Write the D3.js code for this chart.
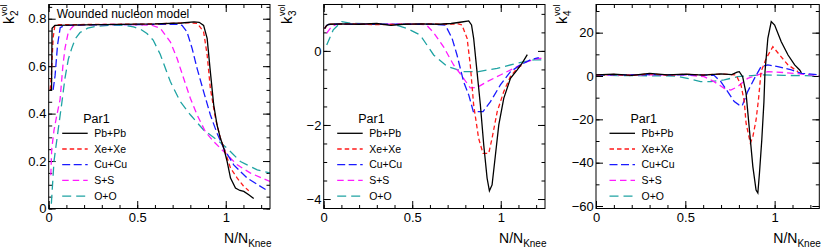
<!DOCTYPE html>
<html>
<head>
<meta charset="utf-8">
<script src="https://cdn.jsdelivr.net/npm/d3@7"></script>
<style>
body { margin: 0; background: #fff; }
svg { display: block; font-family: "Liberation Sans", Arial, sans-serif; }
</style>
</head>
<body>
<div id="chart"></div>
<script>
// systems, in legend order
var systems = ["Pb+Pb", "Xe+Xe", "Cu+Cu", "S+S", "O+O"];
var colors = ["#000000", "#ff1a1a", "#1a1aff", "#ff1aff", "#1fa3a3"];
var dashes = [null, "4.5,3", "8,3.5", "6.5,4", "9,5"];

var xTicks = [0, 0.5, 1];

// k2^vol vs N/N_Knee  [x, y]
var k2_PbPb = [[0.006,0.5],[0.016,0.5],[0.019,0.76],[0.035,0.772],[0.2,0.774],[0.4,0.776],[0.6,0.778],[0.75,0.782],[0.82,0.787],[0.85,0.785],[0.875,0.772],[0.895,0.717],[0.913,0.577],[0.932,0.437],[0.951,0.352],[0.97,0.296],[0.989,0.254],[1.008,0.198],[1.027,0.128],[1.055,0.086],[1.08,0.076],[1.102,0.072],[1.13,0.058],[1.158,0.042]];
var k2_XeXe = [[0.008,0.5],[0.015,0.56],[0.025,0.72],[0.035,0.772],[0.06,0.775],[0.3,0.776],[0.6,0.778],[0.78,0.783],[0.84,0.78],[0.875,0.745],[0.895,0.647],[0.913,0.507],[0.942,0.38],[0.97,0.296],[0.99,0.255],[1.027,0.17],[1.065,0.128],[1.1,0.095],[1.13,0.075]];
var k2_CuCu = [[0.025,0.5],[0.036,0.56],[0.05,0.69],[0.065,0.762],[0.09,0.772],[0.3,0.775],[0.6,0.776],[0.73,0.776],[0.753,0.772],[0.781,0.745],[0.81,0.675],[0.838,0.591],[0.875,0.493],[0.913,0.395],[0.951,0.317],[0.989,0.254],[1.045,0.184],[1.121,0.128],[1.225,0.08]];
var k2_SS = [[0.012,0.14],[0.017,0.25],[0.03,0.33],[0.045,0.39],[0.064,0.458],[0.08,0.6],[0.092,0.675],[0.111,0.745],[0.14,0.77],[0.2,0.775],[0.4,0.776],[0.58,0.773],[0.63,0.76],[0.687,0.703],[0.725,0.633],[0.762,0.549],[0.8,0.465],[0.838,0.395],[0.885,0.324],[0.932,0.282],[0.989,0.24],[1.065,0.184],[1.14,0.149],[1.25,0.114]];
var k2_OO = [[0.015,0.02],[0.03,0.2],[0.055,0.34],[0.075,0.45],[0.092,0.55],[0.111,0.63],[0.13,0.675],[0.15,0.715],[0.177,0.742],[0.22,0.76],[0.253,0.766],[0.347,0.773],[0.43,0.772],[0.479,0.766],[0.52,0.755],[0.555,0.738],[0.59,0.71],[0.63,0.65],[0.687,0.535],[0.743,0.451],[0.8,0.395],[0.875,0.331],[0.951,0.289],[1.008,0.254],[1.083,0.198],[1.178,0.163],[1.25,0.15]];

// k3^vol
var k3_PbPb = [[0.005,0.6],[0.015,0.68],[0.03,0.72],[0.1,0.73],[0.2,0.72],[0.3,0.74],[0.38,0.69],[0.45,0.72],[0.55,0.73],[0.65,0.72],[0.72,0.74],[0.78,0.78],[0.819,0.81],[0.835,0.7],[0.847,0.34],[0.866,-0.56],[0.885,-1.46],[0.904,-2.54],[0.923,-3.44],[0.936,-3.78],[0.951,-3.62],[0.97,-2.81],[0.989,-2.0],[1.017,-1.28],[1.055,-0.74],[1.093,-0.51],[1.121,-0.33],[1.15,-0.1]];
var k3_XeXe = [[0.005,0.6],[0.02,0.7],[0.04,0.72],[0.15,0.73],[0.3,0.71],[0.45,0.72],[0.6,0.73],[0.7,0.72],[0.76,0.73],[0.781,0.7],[0.81,0.34],[0.828,-0.38],[0.847,-1.46],[0.875,-2.36],[0.9,-2.77],[0.932,-2.77],[0.951,-2.36],[0.98,-1.64],[1.017,-1.1],[1.055,-0.69],[1.093,-0.47],[1.13,-0.35]];
var k3_CuCu = [[0.005,0.6],[0.02,0.7],[0.04,0.72],[0.3,0.72],[0.6,0.72],[0.687,0.7],[0.725,0.34],[0.753,-0.11],[0.79,-0.83],[0.82,-1.2],[0.845,-1.64],[0.9,-1.64],[0.942,-1.37],[0.998,-0.92],[1.055,-0.56],[1.111,-0.38],[1.168,-0.24],[1.215,-0.18]];
var k3_SS = [[0.017,0.48],[0.045,0.66],[0.074,0.72],[0.3,0.72],[0.55,0.72],[0.58,0.7],[0.62,0.5],[0.678,0.1],[0.734,-0.38],[0.79,-0.74],[0.828,-1.0],[0.866,-0.99],[0.923,-0.83],[0.998,-0.65],[1.074,-0.47],[1.15,-0.29],[1.215,-0.2],[1.26,-0.2]];
var k3_OO = [[0.017,0.16],[0.054,0.57],[0.102,0.79],[0.149,0.75],[0.25,0.73],[0.35,0.72],[0.42,0.68],[0.47,0.61],[0.545,0.43],[0.621,-0.11],[0.697,-0.42],[0.79,-0.56],[0.875,-0.56],[0.98,-0.47],[1.093,-0.33],[1.187,-0.24],[1.26,-0.24]];

// k4^vol
var k4_PbPb = [[0,0.5],[0.1,0.9],[0.2,0.3],[0.3,1.2],[0.4,0.5],[0.5,0.9],[0.6,0.4],[0.7,1.0],[0.76,0.6],[0.79,1.8],[0.802,2.0],[0.821,-0.3],[0.84,-8],[0.859,-24.9],[0.878,-41.8],[0.896,-52.6],[0.906,-54],[0.915,-44.9],[0.928,-29.5],[0.94,-12],[0.946,2],[0.962,17.4],[0.981,25.1],[1.0,23.5],[1.037,15.8],[1.075,9.7],[1.112,5.1],[1.14,2.8],[1.15,1.5]];
var k4_XeXe = [[0,0.5],[0.1,0.7],[0.2,0.2],[0.3,1.0],[0.4,0.4],[0.5,0.8],[0.6,0.5],[0.7,0.9],[0.784,0.5],[0.812,-4.2],[0.83,-11.8],[0.84,-21.8],[0.864,-31],[0.878,-28],[0.896,-20.3],[0.91,-10.5],[0.924,2],[0.953,8.2],[0.99,13.5],[1.028,9.7],[1.075,5.1],[1.131,2]];
var k4_CuCu = [[0,0.5],[0.3,0.6],[0.6,0.5],[0.661,0.3],[0.699,-2.6],[0.737,-7.2],[0.774,-11.8],[0.802,-13.4],[0.818,-13.8],[0.849,-7.2],[0.887,-1.1],[0.924,4.3],[0.962,5.1],[1.018,4.3],[1.094,2.8],[1.15,1.2],[1.26,0.5]];
var k4_SS = [[0,0.5],[0.5,0.5],[0.605,-0.3],[0.661,-2.6],[0.718,-5.7],[0.755,-6.5],[0.793,-4.9],[0.849,-1.1],[0.906,0.5],[0.962,2.0],[1.05,1.6],[1.112,1.2],[1.26,0.1]];
var k4_OO = [[0,0.3],[0.45,0],[0.511,-1.1],[0.586,-2.6],[0.644,-2.6],[0.718,-1.8],[0.793,-0.3],[0.924,0.5],[1.05,0.3],[1.26,0]];

var W = 830, H = 252, topY = 4.5, bottomY = 208.5;

var panels = [
  {left: 48.7, width: 221.3, ydom: [0, 0.86], major: [0, 0.2, 0.4, 0.6, 0.8], minorStep: 0.05,
   fmt: function(d){ return d === 0 ? "0" : d3.format(".1f")(d); }, sub: "2", titleX: 13.5,
   series: [k2_PbPb, k2_XeXe, k2_CuCu, k2_SS, k2_OO], note: "Wounded nucleon model"},
  {left: 323.7, width: 221.3, ydom: [-4.256, 1.253], major: [-4, -2, 0], minorStep: 0.5,
   fmt: d3.format("d"), sub: "3", titleX: 291.5,
   series: [k3_PbPb, k3_XeXe, k3_CuCu, k3_SS, k3_OO]},
  {left: 596, width: 223.3, ydom: [-61.15, 33], major: [-60, -40, -20, 0, 20], minorStep: 10,
   fmt: d3.format("d"), sub: "4", titleX: 566.5,
   series: [k4_PbPb, k4_XeXe, k4_CuCu, k4_SS, k4_OO]}
];

var svg = d3.select("#chart").append("svg").attr("width", W).attr("height", H);

function steps(lo, hi, step) {
  var out = [];
  for (var v = Math.ceil(lo / step - 1e-9); v * step <= hi + 1e-9; v++) out.push(+(v * step).toFixed(6));
  return out;
}

panels.forEach(function(p, pi) {
  var x = d3.scaleLinear().domain([0, 1.25]).range([p.left, p.left + p.width]);
  var y = d3.scaleLinear().domain(p.ydom).range([bottomY, topY]);
  var g = svg.append("g");

  var clipId = "clip" + pi;
  svg.append("clipPath").attr("id", clipId).append("rect")
    .attr("x", p.left).attr("y", topY).attr("width", p.width).attr("height", bottomY - topY);

  var xMinor = steps(0, 1.25, 0.1);
  var yMinor = steps(p.ydom[0], p.ydom[1], p.minorStep);

  function clean(sel) { sel.select(".domain").remove(); sel.selectAll("line").attr("stroke", "#000"); }

  // bottom / top axes
  g.append("g").attr("transform", "translate(0," + bottomY + ")")
    .call(d3.axisBottom(x).tickValues(xMinor).tickSize(-3.5).tickFormat("")).call(clean);
  g.append("g").attr("transform", "translate(0," + bottomY + ")")
    .call(d3.axisBottom(x).tickValues(xTicks).tickSize(-7.5).tickPadding(4.5).tickFormat(d3.format("")))
    .call(clean)
    .selectAll("text").attr("font-size", 13).attr("fill", "#000").style("font-family", "inherit");
  g.append("g").attr("transform", "translate(0," + topY + ")")
    .call(d3.axisTop(x).tickValues(xMinor).tickSize(-3.5).tickFormat("")).call(clean);
  g.append("g").attr("transform", "translate(0," + topY + ")")
    .call(d3.axisTop(x).tickValues(xTicks).tickSize(-7.5).tickFormat("")).call(clean);

  // left / right axes
  g.append("g").attr("transform", "translate(" + p.left + ",0)")
    .call(d3.axisLeft(y).tickValues(yMinor).tickSize(-3.5).tickFormat("")).call(clean);
  g.append("g").attr("transform", "translate(" + p.left + ",0)")
    .call(d3.axisLeft(y).tickValues(p.major).tickSize(-7).tickPadding(2.3).tickFormat(p.fmt))
    .call(clean)
    .selectAll("text").attr("font-size", 13).attr("fill", "#000").style("font-family", "inherit");
  g.append("g").attr("transform", "translate(" + (p.left + p.width) + ",0)")
    .call(d3.axisRight(y).tickValues(yMinor).tickSize(-3.5).tickFormat("")).call(clean);
  g.append("g").attr("transform", "translate(" + (p.left + p.width) + ",0)")
    .call(d3.axisRight(y).tickValues(p.major).tickSize(-7).tickFormat("")).call(clean);

  // curves
  var line = d3.line().x(function(d){ return x(d[0]); }).y(function(d){ return y(d[1]); });
  var cg = g.append("g").attr("clip-path", "url(#" + clipId + ")");
  p.series.slice().reverse().forEach(function(s, ri) {
    var i = p.series.length - 1 - ri;
    cg.append("path").datum(s).attr("d", line)
      .attr("fill", "none").attr("stroke", colors[i]).attr("stroke-width", 1.3)
      .attr("stroke-dasharray", dashes[i]);
  });

  // frame
  g.append("rect").attr("x", p.left).attr("y", topY).attr("width", p.width).attr("height", bottomY - topY)
    .attr("fill", "none").attr("stroke", "#000").attr("stroke-width", 1);

  // legend
  var lg = g.append("g").attr("transform", "translate(" + p.left + ",0)");
  lg.append("text").attr("x", 34.5).attr("y", 122.5).attr("font-size", 12.5).text("Par1");
  systems.forEach(function(name, i) {
    var ly = 133.3 + i * 15.7;
    lg.append("line").attr("x1", 13.5).attr("x2", 39).attr("y1", ly).attr("y2", ly)
      .attr("stroke", colors[i]).attr("stroke-width", 1.3).attr("stroke-dasharray", dashes[i]);
    lg.append("text").attr("x", 45.5).attr("y", ly).attr("dy", "0.36em").attr("font-size", 10.5).text(name);
  });

  if (p.note) {
    g.append("text").attr("x", p.left + 8).attr("y", 18.3).attr("font-size", 12).text(p.note);
  }

  // x title
  var xt = g.append("text").attr("x", p.left + p.width + 1.5).attr("y", 243).attr("text-anchor", "end")
    .attr("font-size", 14);
  xt.append("tspan").text("N/N");
  xt.append("tspan").attr("font-size", 10).attr("dy", 3.5).text("Knee");

  // y title: k with stacked sub/superscript, rotated
  var yt = g.append("g");
  var kt = yt.append("text").attr("x", 0).attr("y", 0).attr("font-size", 15).text("k");
  var kLen = kt.node().getComputedTextLength();
  var st = yt.append("text").attr("x", kLen + 0.5).attr("y", 4).attr("font-size", 10).text(p.sub);
  var vt = yt.append("text").attr("x", kLen + 0.5).attr("y", -7).attr("font-size", 9).text("vol");
  var total = kLen + 0.5 + Math.max(st.node().getComputedTextLength(), vt.node().getComputedTextLength());
  yt.attr("transform", "translate(" + p.titleX + "," + (topY + total) + ") rotate(-90)");
});
</script>
</body>
</html>
